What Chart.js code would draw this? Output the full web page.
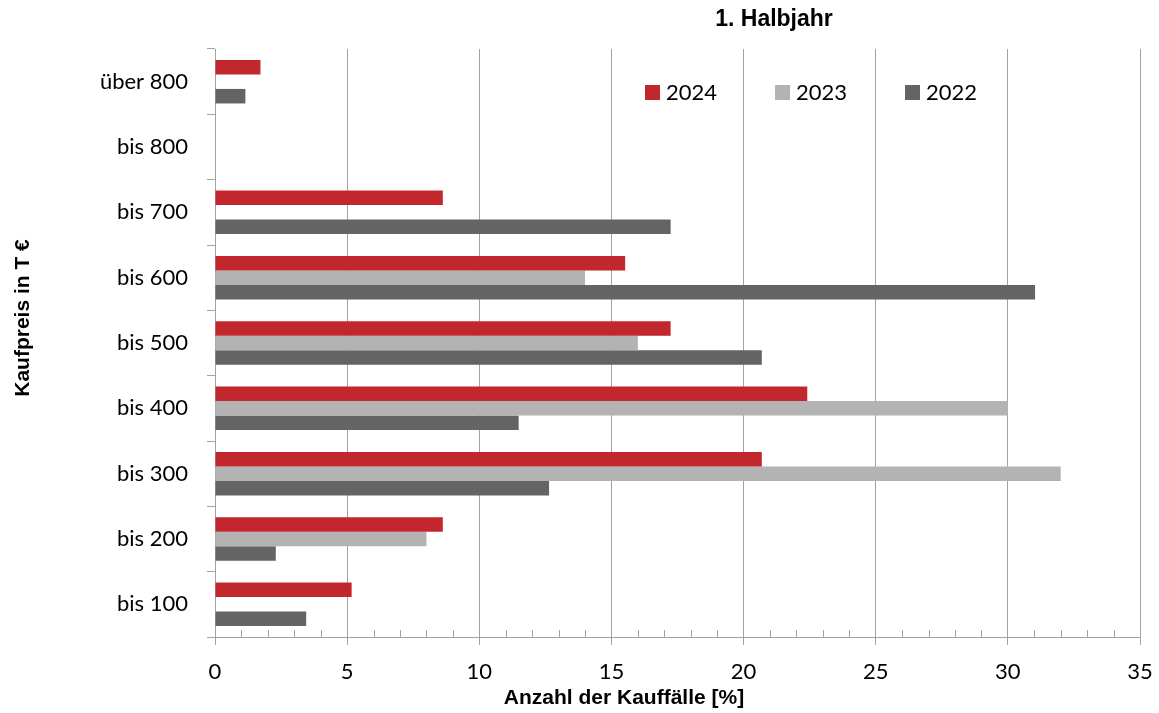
<!DOCTYPE html>
<html>
<head>
<meta charset="utf-8">
<script src="https://cdn.jsdelivr.net/npm/chart.js@4"></script>
<style>
html,body{margin:0;padding:0;background:#fff;}
#wrap{width:1159px;height:713px;position:relative;}
</style>
</head>
<body>
<div id="wrap"><canvas id="c" width="1159" height="713"></canvas></div>
<script>
const categories = ['über 800','bis 800','bis 700','bis 600','bis 500','bis 400','bis 300','bis 200','bis 100'];
const seriesLabels = ['2024','2023','2022'];
const v2024 = [1.72, 0, 8.62, 15.52, 17.24, 22.41, 20.69, 8.62, 5.17];
const v2023 = [0, 0, 0, 14.0, 16.0, 30.0, 32.0, 8.0, 0];
const v2022 = [1.15, 0, 17.24, 31.03, 20.69, 11.49, 12.64, 2.30, 3.45];
const xTicks = [0,5,10,15,20,25,30,35];
const chartTitle = '1. Halbjahr';
const xTitle = 'Anzahl der Kauffälle [%]';
const yTitle = 'Kaufpreis in T €';

const colors = ['#c1272d','#b3b3b3','#646464'];
const gridColor = '#a3a3a3';
const tickFont = "Lato, 'Open Sans', sans-serif";
const boldFont = "'Liberation Sans', Arial, sans-serif";

const extras = {
  id:'extras',
  afterDraw(chart){
    const ctx = chart.ctx;
    const xs = chart.scales.x;
    const area = chart.chartArea;
    ctx.save();
    // minor ticks
    ctx.strokeStyle = gridColor;
    ctx.lineWidth = 1;
    for(let v = xs.min; v <= xs.max; v++){
      if (v % 5 === 0) continue;
      const px = Math.round(xs.getPixelForValue(v)) + 0.5;
      ctx.beginPath();
      ctx.moveTo(px, area.bottom - 7);
      ctx.lineTo(px, area.bottom);
      ctx.stroke();
    }
    // titles
    ctx.fillStyle = '#000';
    ctx.textAlign = 'center';
    ctx.textBaseline = 'middle';
    ctx.font = "bold 23px " + boldFont;
    ctx.fillText(chartTitle, 774, 20);
    ctx.font = "bold 21px " + boldFont;
    ctx.fillText(xTitle, 624, 698);
    ctx.save();
    ctx.translate(23, 318);
    ctx.rotate(-Math.PI/2);
    ctx.fillText(yTitle, 0, 0);
    ctx.restore();
    // legend
    const lx = [645, 775, 905];
    ctx.font = "22px " + tickFont;
    ctx.textAlign = 'left';
    chart.data.datasets.forEach((ds, i) => {
      ctx.fillStyle = ds.backgroundColor;
      ctx.fillRect(lx[i], 85, 15, 15);
      ctx.fillStyle = '#000';
      ctx.fillText(ds.label, lx[i] + 21, 93);
    });
    ctx.restore();
  }
};

new Chart(document.getElementById('c'), {
  type: 'bar',
  data: {
    labels: categories,
    datasets: [
      {label: seriesLabels[0], data: v2024, backgroundColor: colors[0]},
      {label: seriesLabels[1], data: v2023, backgroundColor: colors[1]},
      {label: seriesLabels[2], data: v2022, backgroundColor: colors[2]}
    ]
  },
  options: {
    indexAxis: 'y',
    responsive: false,
    animation: false,
    devicePixelRatio: 1,
    layout: {padding: {top: 49, right: 19, left: 0, bottom: 0}},
    datasets: {bar: {barPercentage: 1.0, categoryPercentage: 0.667, borderWidth: 0}},
    plugins: {legend: {display: false}, tooltip: {enabled: false}, title: {display: false}},
    scales: {
      x: {
        min: 0, max: 35,
        afterBuildTicks(scale){ scale.ticks = xTicks.map(v => ({value: v})); },
        afterFit(scale){ scale.height = 76; scale.paddingRight = 0; scale.paddingLeft = 0; },
        grid: {color: gridColor, lineWidth: 1, tickLength: 8, tickColor: gridColor},
        border: {color: gridColor, width: 1},
        ticks: {color: '#000', font: {family: tickFont, size: 22}, padding: 14, maxRotation: 0}
      },
      y: {
        afterFit(scale){ scale.width = 215; scale.paddingTop = 0; scale.paddingBottom = 0; },
        grid: {display: true, drawOnChartArea: false, offset: true, tickLength: 8, tickColor: gridColor, color: gridColor},
        border: {color: gridColor, width: 1},
        ticks: {color: '#000', font: {family: tickFont, size: 22}, padding: 19}
      }
    }
  },
  plugins: [extras]
});
</script>
</body>
</html>
